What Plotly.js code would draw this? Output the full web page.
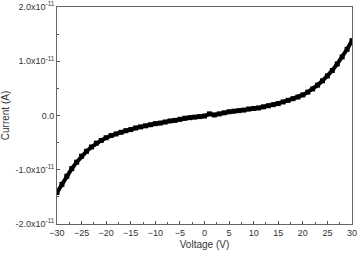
<!DOCTYPE html>
<html><head><meta charset="utf-8">
<script src="https://cdn.plot.ly/plotly-3.0.1.min.js"></script>
<style>html,body{margin:0;padding:0;background:#fff}#c{width:357px;height:256px}</style>
</head><body><div id="c"></div>
<script>
const voltage = [-30,-29,-28,-27,-26,-25,-24,-23,-22,-21,-20,-19,-18,-17,-16,-15,-14,-13,-12,-11,-10,-9,-8,-7,-6,-5,-4,-3,-2,-1,0,1,2,3,4,5,6,7,8,9,10,11,12,13,14,15,16,17,18,19,20,21,22,23,24,25,26,27,28,29,30];
const currentE11 = [-1.42,-1.27,-1.12,-0.98,-0.86,-0.75,-0.66,-0.58,-0.51,-0.46,-0.41,-0.37,-0.34,-0.31,-0.28,-0.26,-0.23,-0.21,-0.19,-0.17,-0.15,-0.14,-0.12,-0.10,-0.09,-0.07,-0.05,-0.04,-0.03,-0.02,-0.01,0.03,0.01,0.03,0.05,0.07,0.08,0.09,0.10,0.12,0.13,0.14,0.16,0.18,0.20,0.22,0.25,0.28,0.31,0.34,0.38,0.43,0.49,0.56,0.64,0.73,0.83,0.95,1.08,1.22,1.38];
const yTickVals = [-2e-11,-1e-11,0,1e-11,2e-11];
const yTickText = ['-2.0x10<sup>-11</sup>','-1.0x10<sup>-11</sup>','0.0','1.0x10<sup>-11</sup>','2.0x10<sup>-11</sup>'];
const xTickVals = [-30,-25,-20,-15,-10,-5,0,5,10,15,20,25,30];

const current = currentE11.map(v => v * 1e-11);
const font = {family: 'Liberation Sans, Arial, sans-serif', color: '#333'};
Plotly.newPlot('c', [{
  x: voltage, y: current, type: 'scatter', mode: 'lines+markers',
  line: {color: '#000', width: 4},
  marker: {symbol: 'square', size: 5, color: '#000'}
}], {
  width: 357, height: 256,
  margin: {l: 57, r: 5, t: 7, b: 32},
  showlegend: false,
  paper_bgcolor: '#fff', plot_bgcolor: '#fff',
  font: Object.assign({size: 9}, font),
  xaxis: {
    range: [-30, 30], tickvals: xTickVals, ticks: 'inside', ticklen: 3, tickcolor: '#555',
    ticklabeloverflow: 'allow',
    showline: true, linecolor: '#666', linewidth: 1, mirror: true, showgrid: false, zeroline: false,
    minor: {dtick: 2.5, ticks: 'inside', ticklen: 2, tickcolor: '#555'},
    title: {text: 'Voltage (V)', font: Object.assign({size: 10}, font), standoff: 4}
  },
  yaxis: {
    range: [-2e-11, 2e-11], tickvals: yTickVals, ticktext: yTickText, ticks: 'inside', ticklen: 3, tickcolor: '#555',
    ticklabeloverflow: 'allow',
    showline: true, linecolor: '#666', linewidth: 1, mirror: true, showgrid: false, zeroline: false,
    minor: {tickvals: [-1.5e-11,-0.5e-11,0.5e-11,1.5e-11], ticks: 'inside', ticklen: 2, tickcolor: '#555'},
    title: {text: 'Current (A)', font: Object.assign({size: 10}, font), standoff: 4}
  }
}, {staticPlot: true});
</script></body></html>
